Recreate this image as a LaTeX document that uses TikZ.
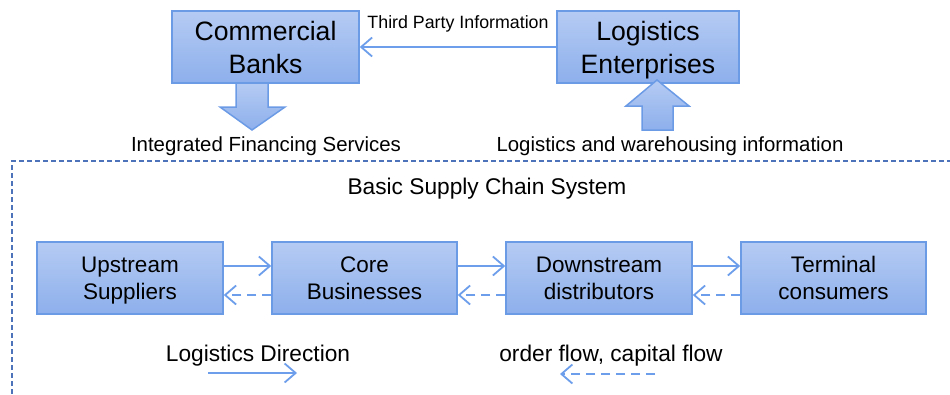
\documentclass[tikz,border=0pt]{standalone}
\usepackage{fontspec}
\setmainfont{Liberation Sans}
\usetikzlibrary{arrows.meta,calc}
\definecolor{boxtop}{HTML}{B5CBF3}
\definecolor{boxbot}{HTML}{8DAFEC}
\definecolor{boxline}{HTML}{6C9BE6}
\definecolor{arrowc}{HTML}{6D9EEB}
\definecolor{framec}{HTML}{4D74BA}
\newcommand{\myupstrut}[1]{\rule{0pt}{#1}}
\newcommand{\mydownstrut}[1]{\rule[-#1]{0pt}{#1}}
\tikzset{
  bigbox/.style={draw=boxline, line width=1.5pt, top color=boxtop, bottom color=boxbot,
    minimum height=72pt, inner sep=0pt, align=center, font=\fontsize{26.6}{33}\selectfont},
  chainbox/.style={draw=boxline, line width=1.5pt, top color=boxtop, bottom color=boxbot,
    minimum width=186pt, minimum height=72pt, inner sep=0pt, align=center, font=\fontsize{22.5}{27}\selectfont},
  flow/.style={draw=arrowc, line width=1.8pt, -{Straight Barb[length=11pt,width=19pt,line width=1.8pt]}},
  backflow/.style={flow, dash pattern=on 9pt off 6pt},
  blockarrow/.style={draw=boxline, line width=1.5pt, top color=boxtop, bottom color=boxbot},
  lbl/.style={inner sep=0pt, font=\fontsize{20.4}{24}\selectfont},
  biglbl/.style={inner sep=0pt, font=\fontsize{22.7}{27}\selectfont},
}
\begin{document}
\begin{tikzpicture}[x=1pt,y=-1pt]
\useasboundingbox (0,0) rectangle (950,394);
% dashed frame
\draw[framec, line width=1.4pt, dash pattern=on 5pt off 3pt] (12,394) -- (12,161) -- (950,161);
% top boxes
\node[bigbox, minimum width=187pt] (cb) at (265.5,47) {\myupstrut{28.9pt}Commercial\\Banks\mydownstrut{9.9pt}};
\node[bigbox, minimum width=182pt] (le) at (648,47) {\myupstrut{28.9pt}Logistics\\Enterprises\mydownstrut{9.9pt}};
\draw[flow] (le.west) -- (cb.east);
\node[inner sep=0pt, font=\fontsize{17.8}{21}\selectfont] (tpi) at (458,24) {Third Party Information};
% block arrows
\path[blockarrow] (236,83) -- (268,83) -- (268,107) -- (285,107) -- (252,130) -- (220,107) -- (236,107) -- cycle;
\path[blockarrow] (642,130) -- (673,130) -- (673,106) -- (689,106) -- (657,80) -- (626,106) -- (642,106) -- cycle;
\node[lbl] (ifs) at (266,146) {Integrated Financing Services};
\node[lbl] (lwi) at (670,146) {Logistics and warehousing information};
% supply chain
\node[biglbl] (bscs) at (487,189) {Basic Supply Chain System};
\node[chainbox] (us) at (130,278) {\myupstrut{24.5pt}Upstream\\Suppliers\mydownstrut{8.1pt}};
\node[chainbox, minimum width=185pt] (core) at (364.5,278) {\myupstrut{24.5pt}Core\\Businesses\mydownstrut{8.1pt}};
\node[chainbox] (ds) at (599,278) {\myupstrut{24.5pt}Downstream\\distributors\mydownstrut{8.1pt}};
\node[chainbox, minimum width=185pt] (tc) at (833.5,278) {\myupstrut{24.5pt}Terminal\\consumers\mydownstrut{8.1pt}};
\foreach \a/\b in {us/core, core/ds, ds/tc}{
  \draw[flow] ([yshift=12pt]\a.east) -- ([yshift=12pt]\b.west);
  \draw[backflow] ([yshift=-17pt]\b.west) -- ([yshift=-17pt]\a.east);
}
% legend
\node[biglbl] (ld) at (258,356) {Logistics Direction};
\node[biglbl] (ocf) at (611,356) {order flow, capital flow};
\coordinate (l1a) at (208,373);
\coordinate (l1b) at (297,373);
\coordinate (l2a) at (655,374);
\coordinate (l2b) at (560,374);
\draw[flow] (l1a) -- (l1b);
\draw[backflow] (l2a) -- (l2b);
\end{tikzpicture}
\end{document}
